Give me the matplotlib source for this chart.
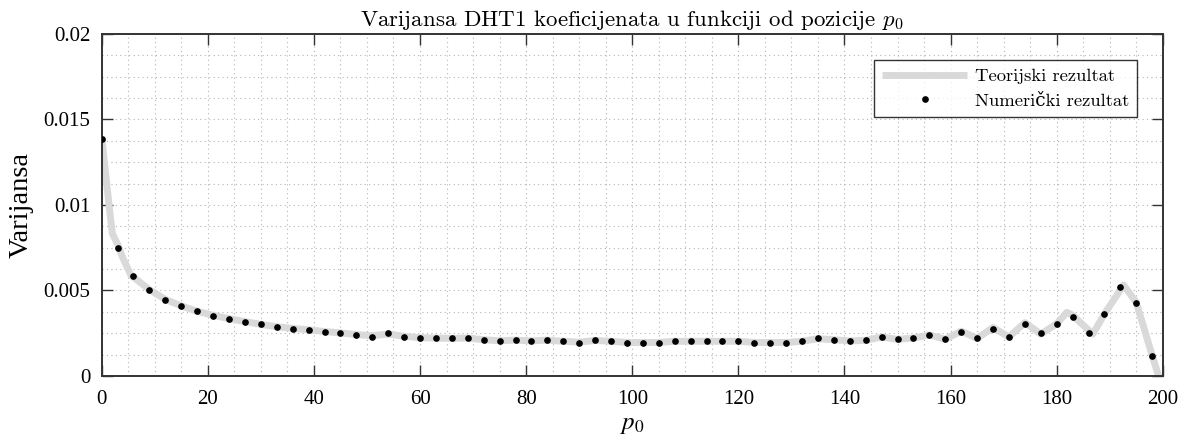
import matplotlib
matplotlib.use("Agg")
import matplotlib.pyplot as plt
from matplotlib.ticker import MultipleLocator, FixedLocator, FixedFormatter

plt.rcParams['font.family'] = ['Liberation Serif', 'DejaVu Serif']
plt.rcParams['mathtext.fontset'] = 'stix'

# Numerical result (dots), every 3rd position
num_x = list(range(0, 199, 3))
num_y = [0.01384, 0.00747, 0.00587, 0.00503, 0.00446, 0.00409, 0.00380, 0.00353,
         0.00333, 0.00316, 0.00306, 0.00288, 0.00277, 0.00269, 0.00259, 0.00250,
         0.00241, 0.00230, 0.00250, 0.00230, 0.00222, 0.00222, 0.00222, 0.00222,
         0.00211, 0.00203, 0.00211, 0.00203, 0.00211, 0.00203, 0.00193, 0.00211,
         0.00203, 0.00193, 0.00193, 0.00193, 0.00203, 0.00203, 0.00203, 0.00203,
         0.00203, 0.00193, 0.00193, 0.00193, 0.00203, 0.00222, 0.00212, 0.00203,
         0.00211, 0.00230, 0.00215, 0.00222, 0.00242, 0.00215, 0.00259, 0.00222,
         0.00277, 0.00230, 0.00306, 0.00249, 0.00306, 0.00343, 0.00249, 0.00363,
         0.00522, 0.00429, 0.00119]

# Theoretical result (thick grey line)
theo_x = [0, 1, 2, 3, 4, 5.5, 9, 12, 15, 18, 21, 24, 27, 30, 33, 36, 39, 42, 45,
          48, 51, 54, 57, 60, 63, 66, 69, 72, 75, 78, 81, 84, 87, 90, 93, 96, 99,
          102, 105, 108, 111, 114, 117, 120, 123, 126, 129, 132, 135, 138, 141,
          144, 147, 150, 153, 156, 159, 162, 165, 168, 171, 174, 177, 180, 181.9,
          183, 186.8, 189, 192.6, 195, 198, 199.2]
theo_y = [0.01400, 0.01110, 0.00834, 0.00770, 0.00690, 0.00590, 0.00505, 0.00448,
          0.00410, 0.00378, 0.00355, 0.00335, 0.00318, 0.00302, 0.00288, 0.00278,
          0.00270, 0.00260, 0.00252, 0.00242, 0.00236, 0.00245, 0.00232, 0.00224,
          0.00222, 0.00220, 0.00222, 0.00212, 0.00206, 0.00210, 0.00205, 0.00210,
          0.00203, 0.00198, 0.00208, 0.00203, 0.00196, 0.00196, 0.00196, 0.00203,
          0.00203, 0.00203, 0.00203, 0.00203, 0.00196, 0.00196, 0.00196, 0.00203,
          0.00218, 0.00212, 0.00205, 0.00208, 0.00228, 0.00214, 0.00222, 0.00240,
          0.00215, 0.00262, 0.00220, 0.00283, 0.00228, 0.00312, 0.00245, 0.00306,
          0.00372, 0.00355, 0.00245, 0.00363, 0.00532, 0.00429, 0.00119, 0.0]

x_ticks = [0, 20, 40, 60, 80, 100, 120, 140, 160, 180, 200]
x_tick_labels = ['0', '20', '40', '60', '80', '100', '120', '140', '160', '180', '200']
y_ticks = [0, 0.005, 0.01, 0.015, 0.02]
y_tick_labels = ['0', '0.005', '0.01', '0.015', '0.02']

CM = ['cmr10', 'DejaVu Serif']

fig = plt.figure(figsize=(11.89, 4.41), dpi=100)
ax = fig.add_axes([0.0855, 0.1474, 0.8925, 0.7756])

ax.plot(theo_x, theo_y, color='#d9d9d9', lw=5, solid_capstyle='butt',
        label='Teorijski rezultat', zorder=2)
ax.plot(num_x, num_y, 'o', color='black', ms=3.8, ls='none',
        label='Numerički rezultat', zorder=3)

ax.set_xlim(0, 200)
ax.set_ylim(0, 0.02)
ax.xaxis.set_major_locator(FixedLocator(x_ticks))
ax.xaxis.set_major_formatter(FixedFormatter(x_tick_labels))
ax.yaxis.set_major_locator(FixedLocator(y_ticks))
ax.yaxis.set_major_formatter(FixedFormatter(y_tick_labels))
ax.xaxis.set_minor_locator(MultipleLocator(5))
ax.yaxis.set_minor_locator(MultipleLocator(0.00125))

ax.grid(True, which='both', ls=(0, (1, 3)), color='#b4b4b4', lw=0.8)
ax.set_axisbelow(True)
ax.tick_params(which='major', direction='in', top=True, right=True,
               length=8, width=1.0, color='#333333', labelsize=15)
ax.tick_params(axis='x', which='major', pad=10)
ax.tick_params(axis='y', which='major', pad=8)
ax.tick_params(which='minor', length=0)
for s in ax.spines.values():
    s.set_color('#333333')
    s.set_linewidth(1.4)

ax.set_title(r'Varijansa DHT1 koeficijenata u funkciji od pozicije $p_0$',
             fontsize=16.5, pad=6, family=CM, math_fontfamily='cm')
ax.set_xlabel(r'$p_0$', fontsize=18, labelpad=4)
ax.set_ylabel('Varijansa', fontsize=20.5, labelpad=7)

leg = ax.legend(loc='upper right', bbox_to_anchor=(0.976, 0.924),
                prop={'family': CM, 'size': 13.4},
                frameon=True, fancybox=False, edgecolor='black',
                handlelength=4.57, borderpad=0.45, labelspacing=0.45,
                handletextpad=0.4, borderaxespad=0)
leg.get_frame().set_linewidth(1.0)

fig.savefig('out.png', dpi=100)
